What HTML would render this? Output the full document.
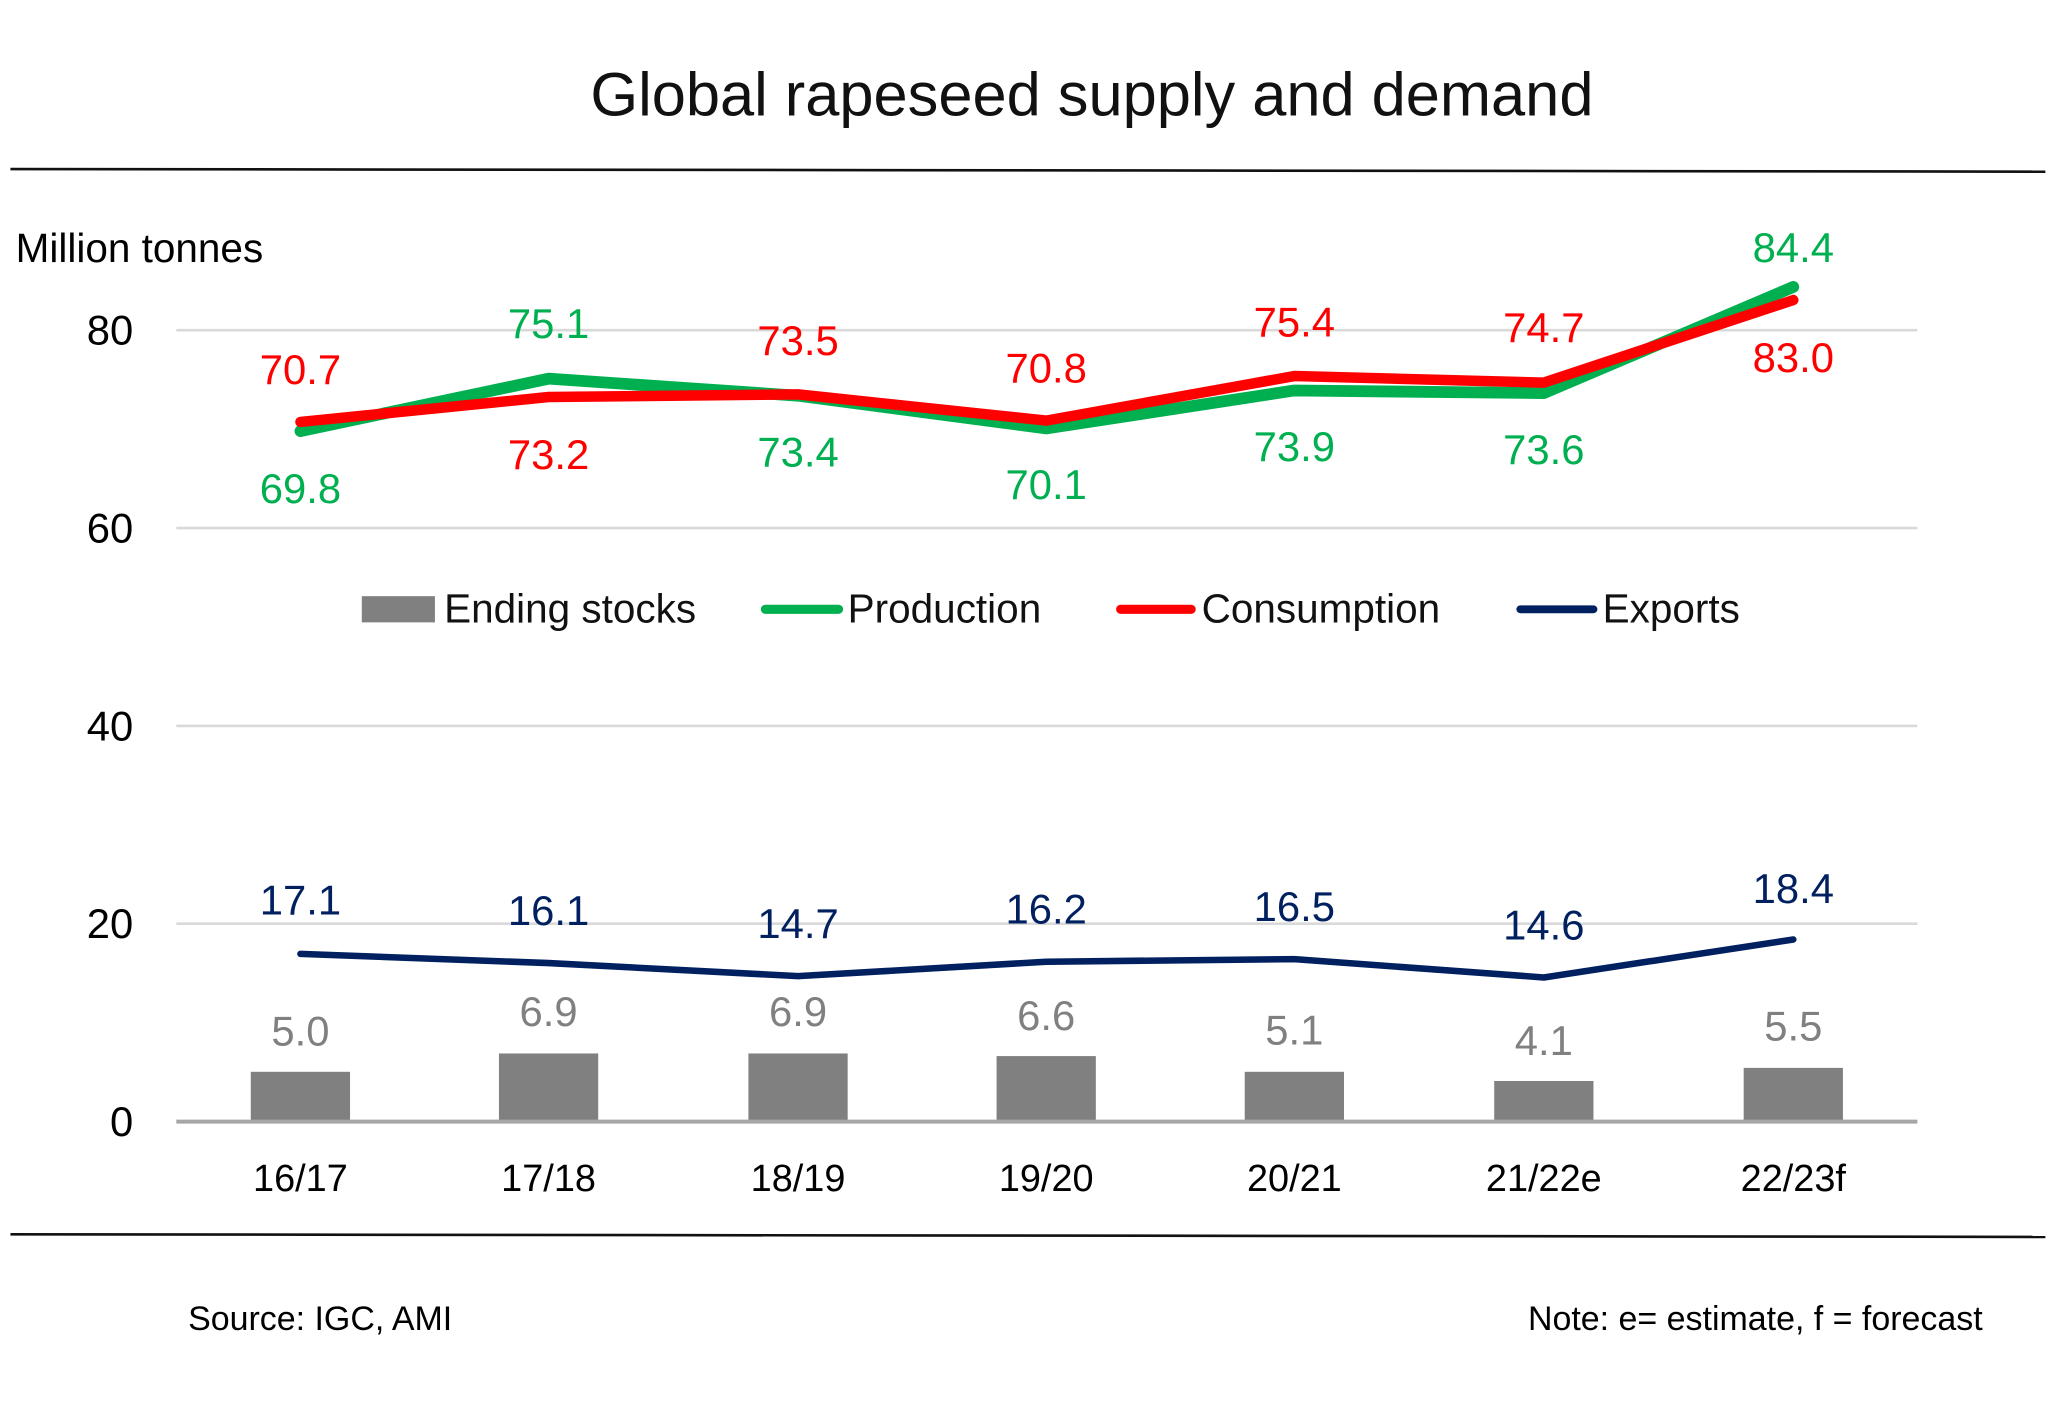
<!DOCTYPE html>
<html><head><meta charset="utf-8"><style>
html,body{margin:0;padding:0;background:#fff;}
svg{display:block;}
text{font-family:"Liberation Sans",sans-serif;}
</style></head><body>
<svg width="2048" height="1402" viewBox="0 0 1568 1070" preserveAspectRatio="none" xmlns="http://www.w3.org/2000/svg">
<rect width="1568" height="1070" fill="#fff"/>
<text x="836" y="88" font-size="47" text-anchor="middle" fill="#111">Global rapeseed supply and demand</text>
<line x1="8" y1="129" x2="1566" y2="131" stroke="#111" stroke-width="2"/>
<line x1="8" y1="942" x2="1566" y2="944" stroke="#111" stroke-width="2"/>
<text x="12" y="200" font-size="31" fill="#000">Million tonnes</text>
<g stroke="#d9d9d9" stroke-width="2">
<line x1="135" y1="252" x2="1468" y2="252"/>
<line x1="135" y1="403" x2="1468" y2="403"/>
<line x1="135" y1="554" x2="1468" y2="554"/>
<line x1="135" y1="705" x2="1468" y2="705"/>
</g>
<g font-size="32" fill="#000" text-anchor="end">
<text x="102" y="263">80</text><text x="102" y="414">60</text><text x="102" y="565">40</text><text x="102" y="716">20</text><text x="102" y="867">0</text>
</g>
<g fill="#808080">
<rect x="192" y="818" width="76" height="38"/>
<rect x="382" y="804" width="76" height="52"/>
<rect x="573" y="804" width="76" height="52"/>
<rect x="763" y="806" width="76" height="50"/>
<rect x="953" y="818" width="76" height="38"/>
<rect x="1144" y="825" width="76" height="31"/>
<rect x="1335" y="815" width="76" height="41"/>
</g>
<line x1="135" y1="856" x2="1468" y2="856" stroke="#a6a6a6" stroke-width="3"/>
<polyline points="230,728 420,735 611,745 801,734 991,732 1182,746 1373,717" fill="none" stroke="#002060" stroke-width="5" stroke-linejoin="round" stroke-linecap="round"/>
<polyline points="230,329 420,289 611,302 801,327 991,298 1182,300 1373,219" fill="none" stroke="#00B050" stroke-width="9" stroke-linejoin="round" stroke-linecap="round"/>
<polyline points="230,322 420,303 611,301 801,321 991,287 1182,292 1373,229" fill="none" stroke="#FF0000" stroke-width="8" stroke-linejoin="round" stroke-linecap="round"/>
<g font-size="32" text-anchor="middle" fill="#00B050">
<text x="230" y="384">69.8</text><text x="420" y="258">75.1</text><text x="611" y="356">73.4</text><text x="801" y="381">70.1</text><text x="991" y="352">73.9</text><text x="1182" y="354">73.6</text><text x="1373" y="200">84.4</text>
</g>
<g font-size="32" text-anchor="middle" fill="#FF0000">
<text x="230" y="293">70.7</text><text x="420" y="358">73.2</text><text x="611" y="271">73.5</text><text x="801" y="292">70.8</text><text x="991" y="257">75.4</text><text x="1182" y="261">74.7</text><text x="1373" y="284">83.0</text>
</g>
<g font-size="32" text-anchor="middle" fill="#002060">
<text x="230" y="698">17.1</text><text x="420" y="706">16.1</text><text x="611" y="716">14.7</text><text x="801" y="705">16.2</text><text x="991" y="703">16.5</text><text x="1182" y="717">14.6</text><text x="1373" y="689">18.4</text>
</g>
<g font-size="32" text-anchor="middle" fill="#808080">
<text x="230" y="798">5.0</text><text x="420" y="783">6.9</text><text x="611" y="783">6.9</text><text x="801" y="786">6.6</text><text x="991" y="797">5.1</text><text x="1182" y="805">4.1</text><text x="1373" y="794">5.5</text>
</g>
<g font-size="29" text-anchor="middle" fill="#000">
<text x="230" y="909">16/17</text><text x="420" y="909">17/18</text><text x="611" y="909">18/19</text><text x="801" y="909">19/20</text><text x="991" y="909">20/21</text><text x="1182" y="909">21/22e</text><text x="1373" y="909">22/23f</text>
</g>
<rect x="277" y="455" width="56" height="20" fill="#808080"/>
<text x="340" y="475" font-size="31" fill="#111">Ending stocks</text>
<line x1="586" y1="465" x2="642" y2="465" stroke="#00B050" stroke-width="7" stroke-linecap="round"/>
<text x="649" y="475" font-size="31" fill="#111">Production</text>
<line x1="858" y1="465" x2="912" y2="465" stroke="#FF0000" stroke-width="7" stroke-linecap="round"/>
<text x="920" y="475" font-size="31" fill="#111">Consumption</text>
<line x1="1164" y1="465" x2="1220" y2="465" stroke="#002060" stroke-width="6" stroke-linecap="round"/>
<text x="1227" y="475" font-size="31" fill="#111">Exports</text>
<text x="144" y="1015" font-size="26" fill="#000">Source: IGC, AMI</text>
<text x="1518" y="1015" font-size="26" fill="#000" text-anchor="end">Note: e= estimate, f = forecast</text>
</svg>
</body></html>
